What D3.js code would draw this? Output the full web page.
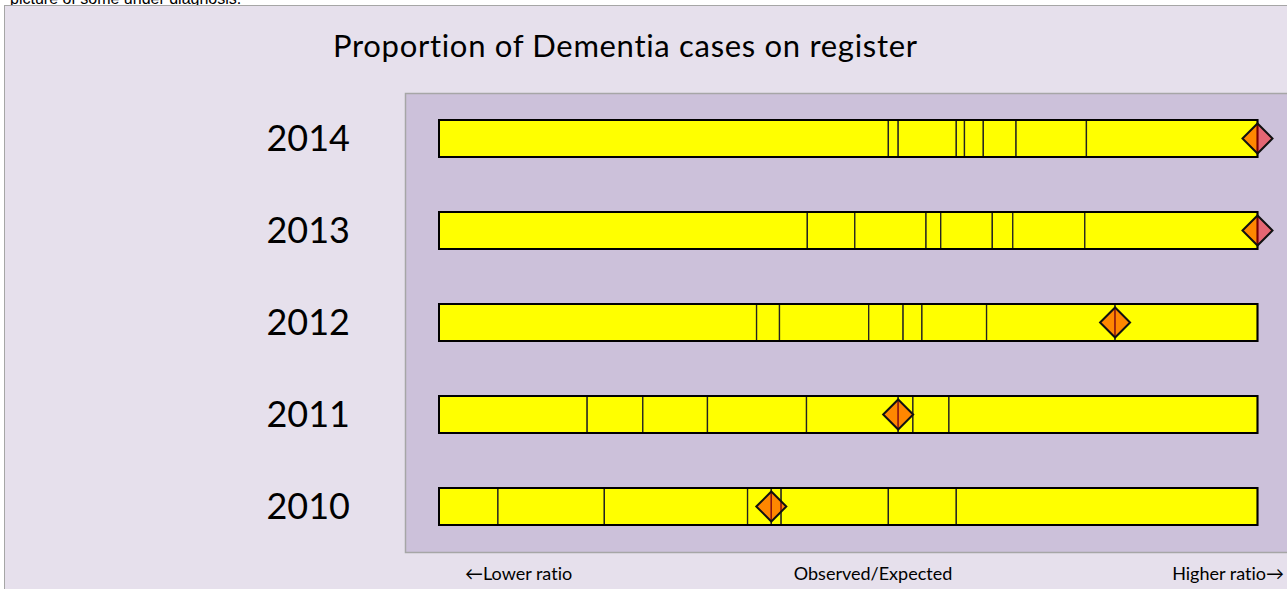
<!DOCTYPE html>
<html>
<head>
<meta charset="utf-8">
<script src="https://cdn.jsdelivr.net/npm/d3@7"></script>
<style>
  html, body { margin: 0; padding: 0; background: #fff; }
  svg { display: block; }
  text { font-variant-ligatures: none; font-feature-settings: "liga" 0, "clig" 0; }
</style>
</head>
<body>
<div id="chart"></div>
<script>
// years, one bar each, top to bottom
const years = ['2014', '2013', '2012', '2011', '2010']
// segment boundaries inside each bar (index, 0-100 along the bar)
const cuts2014 = [54.9, 56.1, 63.2, 64.2, 66.5, 70.5, 79.1]
const cuts2013 = [45.0, 50.8, 59.5, 61.3, 67.6, 70.1, 78.9]
const cuts2012 = [38.8, 41.6, 52.5, 56.7, 59.0, 66.9, 82.6]
const cuts2011 = [18.1, 24.9, 32.8, 44.9, 56.1, 57.9, 62.3]
const cuts2010 = [7.2, 20.2, 37.7, 40.6, 41.8, 54.9, 63.2]
// observed / expected marker per year
const markers = [100, 100, 82.6, 56.1, 40.6]
const axisLabels = ['\u2190Lower ratio', 'Observed/Expected', 'Higher ratio\u2192']

const cuts = [cuts2014, cuts2013, cuts2012, cuts2011, cuts2010]

const width = 1287, height = 589
const svg = d3.select('#chart').append('svg')
  .attr('width', width)
  .attr('height', height)

const font = 'Lato, "Open Sans", sans-serif'

// cut-off note at the very top
svg.append('text')
  .attr('x', 10).attr('y', 4)
  .style('font-family', 'Liberation Sans, Arial, sans-serif')
  .style('font-size', '16px')
  .style('fill', '#000')
  .text('picture of some under diagnosis.')

// outer chart area
svg.append('rect')
  .attr('x', 4.5).attr('y', 5.5)
  .attr('width', width).attr('height', height)
  .style('fill', '#E6E0EC')
  .style('stroke', '#A6A6A6')
  .style('stroke-width', 1)

// plot area
svg.append('rect')
  .attr('x', 405.5).attr('y', 93.5)
  .attr('width', 900).attr('height', 459)
  .style('fill', '#CCC1DA')
  .style('stroke', '#A6A6A6')
  .style('stroke-width', 1.5)

svg.append('text')
  .attr('x', 625).attr('y', 57)
  .attr('text-anchor', 'middle')
  .attr('textLength', 584)
  .attr('lengthAdjust', 'spacing')
  .style('font-family', font)
  .style('font-size', '31px')
  .style('fill', '#000')
  .text('Proportion of Dementia cases on register')

const x = d3.scaleLinear().domain([0, 100]).range([439, 1257.5])
const y = d3.scalePoint().domain(years).range([138.5, 506.5])
const barH = 37

const rows = svg.selectAll('.row')
  .data(years.map((yr, i) => ({ year: yr, cuts: cuts[i], marker: markers[i] })))
  .enter().append('g')
  .attr('class', 'row')

rows.append('text')
  .attr('x', 350)
  .attr('y', d => y(d.year))
  .attr('dy', '0.36em')
  .attr('text-anchor', 'end')
  .style('font-family', font)
  .style('font-size', '36px')
  .style('fill', '#000')
  .text(d => d.year)

// segments
rows.each(function (d) {
  const edges = [0].concat(d.cuts, [100])
  const segs = d3.pairs(edges)
  d3.select(this).selectAll('.seg')
    .data(segs)
    .enter().append('rect')
    .attr('class', 'seg')
    .attr('x', s => x(s[0]))
    .attr('y', y(d.year) - barH / 2)
    .attr('width', s => x(s[1]) - x(s[0]))
    .attr('height', barH)
    .style('fill', '#FFFF00')
    .style('stroke', '#222')
    .style('stroke-width', 1.3)
})

// outer border of each bar
rows.append('rect')
  .attr('x', x(0))
  .attr('y', d => y(d.year) - barH / 2)
  .attr('width', x(100) - x(0))
  .attr('height', barH)
  .style('fill', 'none')
  .style('stroke', '#000')
  .style('stroke-width', 2)

// diamond markers, semi-transparent red
const r = 15
rows.append('path')
  .attr('d', d => {
    const cx = x(d.marker), cy = y(d.year)
    return `M${cx - r},${cy}L${cx},${cy - r}L${cx + r},${cy}L${cx},${cy + r}Z`
  })
  .style('fill', '#FF0000')
  .style('fill-opacity', 0.47)
  .style('stroke', '#111')
  .style('stroke-width', 2)

svg.selectAll('.axislabel')
  .data(axisLabels)
  .enter().append('text')
  .attr('class', 'axislabel')
  .attr('x', (d, i) => [465, 873, 1284][i])
  .attr('y', 580)
  .attr('text-anchor', (d, i) => ['start', 'middle', 'end'][i])
  .style('font-family', font)
  .style('font-size', '18px')
  .style('fill', '#000')
  .text(d => d)
</script>
</body>
</html>
